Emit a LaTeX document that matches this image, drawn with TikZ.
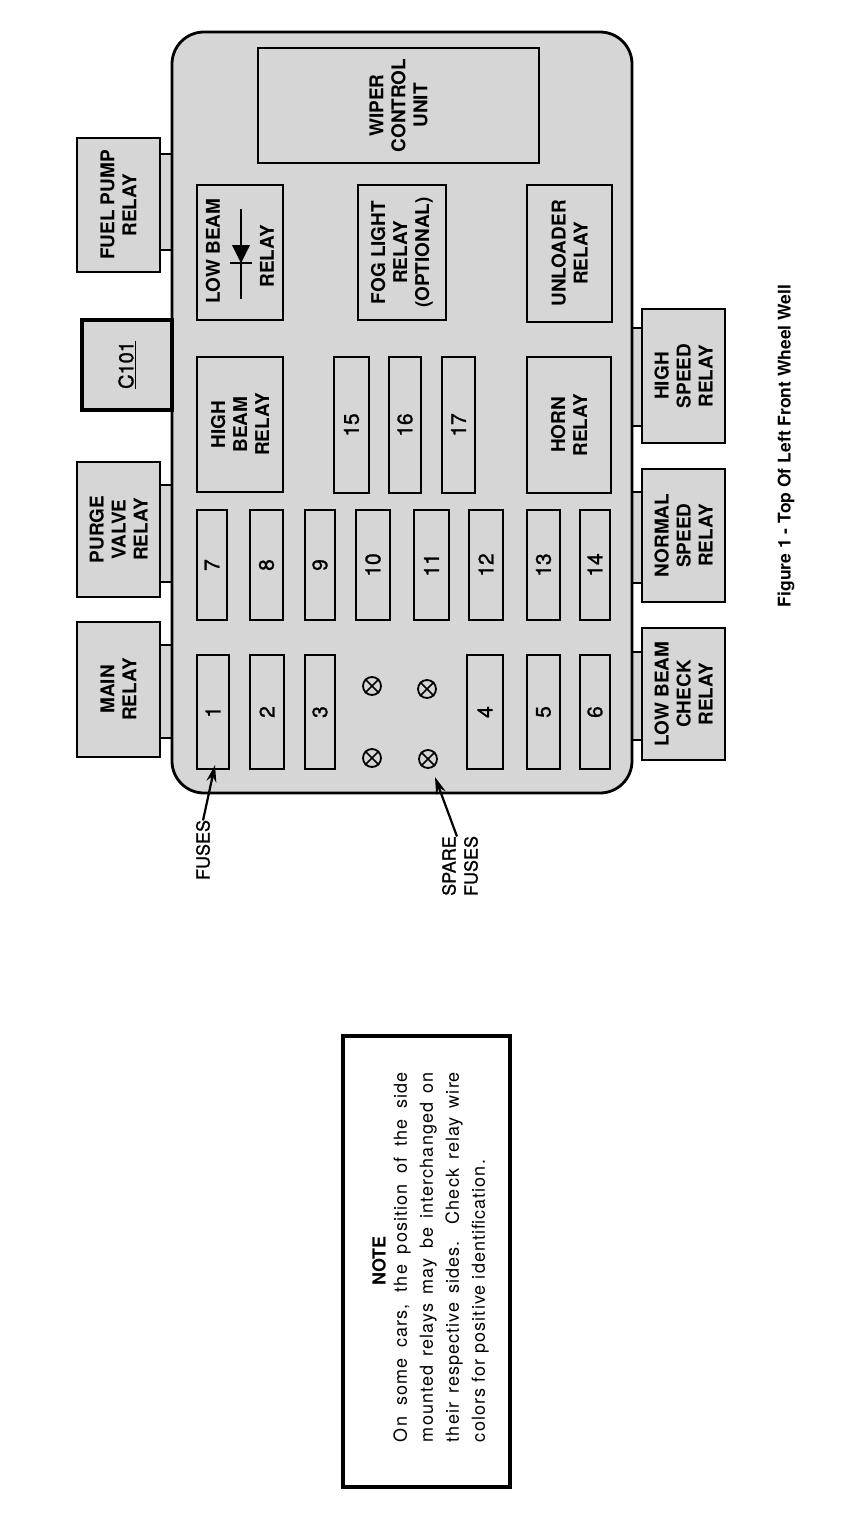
\documentclass[tikz,border=0pt]{standalone}
\usepackage{fontspec}
\usepackage{graphicx}
\setmainfont{TeX Gyre Heros}
\newfontfamily\notefont[LetterSpace=6]{TeX Gyre Heros}
\newfontfamily\numfont[FakeBold=1.2]{TeX Gyre Heros}
\usetikzlibrary{arrows.meta}
\definecolor{boxgray}{gray}{0.84}
\newcommand\bx[7]{\node[#6, rotate=90, minimum width={(#5)-(#3)}, minimum height={(#4)-(#2)}] (#1) at ({((#2)+(#4))/2},{((#3)+(#5))/2}) {#7};}
\newcommand\sparefuse[3]{\node[sparesym] (#1) at (#2,#3) {};
  \draw[line width=1.6pt] (#1.north east)--(#1.south west) (#1.north west)--(#1.south east);}
\tikzset{
  lblfont/.style={font=\fontsize{19}{22}\selectfont\bfseries},
  basebox/.style={draw, fill=boxgray, inner sep=0pt, align=center, lblfont},
  side/.style={basebox, line width=1.8pt},
  conn/.style={basebox, line width=3.6pt, font=\fontsize{20}{22}\selectfont\numfont},
  relay/.style={basebox, line width=2.2pt},
  thinbox/.style={basebox, line width=1.4pt},
  fuse/.style={basebox, line width=2.2pt, font=\fontsize{21}{22}\selectfont\numfont},
  tab/.style={draw, fill=boxgray, line width=1.2pt},
  sparesym/.style={circle, draw, line width=1.8pt, minimum size=18pt, inner sep=0pt},
  arr/.style={line width=2.2pt, -{Stealth[length=17pt, width=10pt]}},
  plainlbl/.style={rotate=90, align=center, font=\fontsize{18}{22}\selectfont\numfont},
}
\begin{document}
\begin{tikzpicture}[x=1pt, y=-1pt]
\useasboundingbox (0,0) rectangle (860,1524);
\fill[white] (0,0) rectangle (860,1524);
% tabs
\draw[tab] (158,154) rectangle (174,250);
\draw[tab] (158,485) rectangle (174,582);
\draw[tab] (158,645) rectangle (174,738);
\draw[tab] (630,328) rectangle (644,426);
\draw[tab] (630,492) rectangle (644,583);
\draw[tab] (630,652) rectangle (644,740);
% main housing
\draw[fill=boxgray, line width=2.8pt, rounded corners=32pt] (172,32) rectangle (632,793);
% side relays
\bx{fuel}{77}{138}{160}{272}{side}{FUEL PUMP\\RELAY}
\bx{c101}{82}{320}{172}{410}{conn}{\underline{C101}}
\bx{purge}{77}{462}{160}{597}{side}{PURGE\\VALVE\\RELAY}
\bx{mainr}{77}{622}{160}{757}{side}{MAIN\\RELAY}
\bx{hispeed}{642}{309}{725}{443}{side}{HIGH\\SPEED\\RELAY}
\bx{normspeed}{642}{469}{725}{602}{side}{NORMAL\\SPEED\\RELAY}
\bx{lbcheck}{642}{628}{725}{760}{side}{LOW BEAM\\CHECK\\RELAY}
% inner units
\bx{wiper}{258}{48}{539}{163}{thinbox}{WIPER\\CONTROL\\UNIT}
\bx{lowbeam}{197}{185}{283}{320}{relay}{}
\node[rotate=90, lblfont] (lbt1) at (213,251) {LOW BEAM};
\node[rotate=90, lblfont] (lbt2) at (267,256) {RELAY};
\draw[line width=1.8pt] (241,209) -- (241,299);
\fill (232,245) -- (250,245) -- (241,263) -- cycle;
\draw[line width=2.4pt] (230,263) -- (252,263);
\bx{fog}{358}{185}{446}{320}{relay}{FOG LIGHT\\RELAY\\(OPTIONAL)}
\bx{unloader}{527}{185}{612}{322}{relay}{UNLOADER\\RELAY}
\bx{highbeam}{197}{357}{283}{492}{relay}{HIGH\\BEAM\\RELAY}
\bx{f15}{334}{357}{369}{493}{fuse}{15}
\bx{f16}{389}{357}{421}{493}{fuse}{16}
\bx{f17}{442}{357}{475}{493}{fuse}{17}
\bx{horn}{527}{357}{611}{493}{relay}{HORN\\RELAY}
% fuse row 7-14
\bx{f7}{197}{510}{227}{620}{fuse}{7}
\bx{f8}{250}{510}{283}{620}{fuse}{8}
\bx{f9}{305}{510}{335}{620}{fuse}{9}
\bx{f10}{356}{510}{390}{620}{fuse}{10}
\bx{f11}{414}{510}{449}{620}{fuse}{11}
\bx{f12}{469}{510}{503}{620}{fuse}{12}
\bx{f13}{527}{510}{560}{620}{fuse}{13}
\bx{f14}{580}{510}{610}{620}{fuse}{14}
% fuse row 1-6
\bx{f1}{197}{655}{229}{769}{fuse}{1}
\bx{f2}{250}{655}{284}{769}{fuse}{2}
\bx{f3}{305}{655}{335}{769}{fuse}{3}
\bx{f4}{467}{655}{503}{769}{fuse}{4}
\bx{f5}{527}{655}{560}{769}{fuse}{5}
\bx{f6}{580}{655}{610}{769}{fuse}{6}
% spare fuses
\sparefuse{s1}{372}{686}
\sparefuse{s2}{427}{689}
\sparefuse{s3}{372}{758}
\sparefuse{s4}{428}{759}
% pointers
\node[plainlbl] (fuseslbl) at (203,850) {FUSES};
\coordinate (fusetip) at (215,765);
\draw[arr] ([yshift=-4pt]fuseslbl.east) -- (fusetip);
\node[plainlbl] (sparelbl) at (460,866) {SPARE\\FUSES};
\coordinate (sparetip) at (435,777);
\draw[arr] ([xshift=-3pt, yshift=-4pt]sparelbl.east) -- (sparetip);
% caption
\node[rotate=90, font=\fontsize{17.5}{20}\selectfont\bfseries] (caption) at (786,446) {Figure 1 - Top Of Left Front Wheel Well};
% note
\node[draw, line width=3.5pt, rotate=90, minimum width=451pt, minimum height=167pt, inner sep=0pt] (notebox) at (426.5,1261.5) {};
\node[rotate=90, font=\fontsize{18}{20}\selectfont\bfseries] (notetitle) at (379,1261) {NOTE};
\node[rotate=90, inner sep=0pt] (notebody) at (441,1257) {\parbox{370pt}{\fontsize{18}{26}\selectfont\notefont
\makebox[370pt][s]{On some cars, the position of the side}\\
\makebox[370pt][s]{mounted relays may be interchanged on}\\
\makebox[370pt][s]{their respective sides. Check relay wire}\\
colors for positive identification.}};
\end{tikzpicture}
\end{document}
